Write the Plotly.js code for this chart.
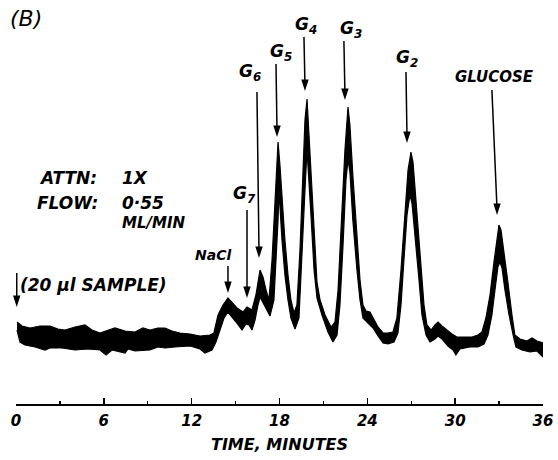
<!DOCTYPE html>
<html>
<head>
<meta charset="utf-8">
<script src="https://cdn.plot.ly/plotly-3.0.1.min.js"></script>
<style>html,body{margin:0;padding:0;background:#fff;}#chart{width:558px;height:460px;}</style>
</head>
<body>
<div id="chart"></div>
<script>
// Time in minutes, detector response (arbitrary units, baseline ~ 0)
// Upper edge of the recorder pen trace
const upperTime = [0.07,0.41,0.96,1.64,2.32,2.87,3.35,4.03,4.71,5.19,5.74,6.28,6.76,7.45,8.13,8.67,9.15,9.70,10.18,10.66,11.20,11.89,12.57,13.25,13.52,13.80,14.14,14.48,14.82,15.10,15.51,15.78,16.12,16.39,16.67,16.87,17.08,17.28,17.49,17.69,17.83,17.90,18.03,18.17,18.37,18.58,18.78,18.99,19.19,19.40,19.60,19.74,19.88,20.01,20.15,20.36,20.56,20.77,21.11,21.52,21.79,22.00,22.27,22.47,22.68,22.81,23.01,23.22,23.50,23.70,23.91,24.18,24.45,24.73,25.07,25.41,25.75,26.02,26.30,26.57,26.78,26.98,27.12,27.32,27.60,27.87,28.07,28.35,28.62,28.83,29.10,29.44,29.78,30.12,30.67,31.15,31.56,31.83,32.10,32.38,32.65,32.86,32.99,33.13,33.33,33.61,33.88,34.08,34.43,34.90,35.25,35.59,36.00];
const upperSignal = [18,14,12,14,14,11,10,13,15,10,7,10,12,9,8,12,10,12,12,9,7,6,4,5,7,25,35,42,37,32,28,33,30,45,70,63,50,40,80,140,180,198,175,140,100,65,40,27,35,90,170,220,241,205,160,100,58,40,25,13,18,50,130,190,233,215,165,115,60,35,29,28,20,13,7,7,8,22,70,130,170,188,178,140,85,35,15,10,15,18,14,10,6,3,3,3,5,8,22,45,78,104,115,110,90,57,25,5,1,-1,2,-1,-3];
// Lower edge of the recorder pen trace
const lowerTime = [0.07,0.27,0.61,1.30,1.98,2.32,3.14,4.03,4.92,5.74,6.15,6.56,7.45,7.65,8.13,9.15,9.70,10.18,10.86,11.89,12.57,12.91,13.39,13.66,13.93,14.21,14.48,14.69,15.03,15.44,15.71,15.92,16.12,16.33,16.53,16.67,16.87,17.14,17.35,17.62,17.76,17.90,17.96,18.03,18.17,18.37,18.58,18.78,19.06,19.33,19.54,19.74,19.88,20.01,20.15,20.36,20.56,20.90,21.31,21.65,21.93,22.13,22.34,22.54,22.68,22.81,23.01,23.29,23.50,23.70,24.04,24.39,24.73,25.07,25.41,25.82,26.09,26.30,26.50,26.71,26.91,27.05,27.25,27.53,27.73,28.01,28.28,28.62,28.83,29.10,29.51,29.85,30.05,30.33,31.01,31.56,31.97,32.24,32.51,32.72,32.92,33.06,33.20,33.40,33.68,33.96,34.15,34.56,35.11,35.59,36.00];
const lowerSignal = [10,-2,-5,-7,-10,-8,-8,-10,-9,-10,-15,-10,-13,-9,-11,-10,-7,-8,-7,-6,-9,-13,-10,-2,10,22,28,24,18,10,16,15,10,20,35,43,38,30,24,40,80,120,150,135,100,65,40,22,11,22,80,150,190,165,125,70,42,25,8,-2,5,35,95,160,180,168,120,70,40,22,17,12,4,-3,-4,-2,7,35,80,125,145,137,105,60,25,5,-2,1,4,1,-6,-10,-15,-9,-7,-7,-4,5,25,50,73,78,72,50,25,5,-7,-10,-12,-11,-17];

const tickValues = [0, 6, 12, 18, 24, 30, 36];
const tickLabels = ['0', '6', '12', '18', '24', '30', '36'];

// Peak labels and their label positions (min, response)
const peakLabels = ['NaCl', 'G<sub>7</sub>', 'G<sub>6</sub>', 'G<sub>5</sub>', 'G<sub>4</sub>', 'G<sub>3</sub>', 'G<sub>2</sub>', 'GLUCOSE'];
const labelTime   = [13.46, 15.64, 15.98, 18.10, 19.81, 22.88, 26.71, 32.72];
const labelSignal = [85, 146, 268, 288, 315, 311, 282, 263];
// Marker arrows: sample injection, NaCl, G7, G6, G5, G4, G3, G2, glucose
const tailTime    = [0.05, 14.48, 15.78, 16.46, 17.76, 19.67, 22.40, 26.64, 32.51];
const tailSignal  = [67, 74, 130, 248, 276, 303, 299, 268, 250];
const headTime    = [0.05, 14.48, 15.78, 16.60, 17.83, 19.74, 22.47, 26.71, 32.86];
const headSignal  = [33, 47, 42, 82, 203, 249, 240, 197, 125];

const polyX = upperTime.concat(lowerTime.slice().reverse());
const polyY = upperSignal.concat(lowerSignal.slice().reverse());

const FAM = 'DejaVu Sans';
const boldItalic = (size) => ({family: FAM, size: size, color: '#000', weight: 'bold', style: 'italic'});

const trace = {
  x: polyX, y: polyY, type: 'scatter', mode: 'lines',
  fill: 'toself', fillcolor: '#000',
  line: {color: '#000', width: 1.2, shape: 'linear'},
  hoverinfo: 'skip'
};

const arrowX = [], arrowY = [];
for (let i = 0; i < tailTime.length; i++) {
  arrowX.push(tailTime[i], headTime[i], null);
  arrowY.push(tailSignal[i], headSignal[i] + 6, null);
}
const arrowShafts = {
  x: arrowX, y: arrowY, type: 'scatter', mode: 'lines',
  line: {color: '#000', width: 1.5}, hoverinfo: 'skip'
};
const arrowHeads = {
  x: headTime, y: headSignal, type: 'scatter', mode: 'markers',
  marker: {symbol: 'arrow', angle: 180, size: 12, color: '#000', line: {width: 0}},
  cliponaxis: false, hoverinfo: 'skip'
};

const annotations = [];
for (let i = 0; i < peakLabels.length; i++) {
  annotations.push({
    x: labelTime[i], y: labelSignal[i], xref: 'x', yref: 'y',
    text: peakLabels[i], showarrow: false, xanchor: 'center', yanchor: 'middle',
    font: boldItalic(i === 0 ? 14 : (i === 7 ? 15 : 17))
  });
}
annotations.push({x: 0.15, y: 55, xref: 'x', yref: 'y', text: '(20 µl SAMPLE)', showarrow: false,
  xanchor: 'left', yanchor: 'middle', font: boldItalic(17)});
annotations.push({x: 1.43, y: 162, xref: 'x', yref: 'y', text: 'ATTN:', showarrow: false,
  xanchor: 'left', yanchor: 'middle', font: boldItalic(17)});
annotations.push({x: 7.10, y: 162, xref: 'x', yref: 'y', text: '1X', showarrow: false,
  xanchor: 'left', yanchor: 'middle', font: boldItalic(17)});
annotations.push({x: 1.30, y: 137, xref: 'x', yref: 'y', text: 'FLOW:', showarrow: false,
  xanchor: 'left', yanchor: 'middle', font: boldItalic(17)});
annotations.push({x: 7.10, y: 137, xref: 'x', yref: 'y', text: '0·55', showarrow: false,
  xanchor: 'left', yanchor: 'middle', font: boldItalic(17)});
annotations.push({x: 7.10, y: 117, xref: 'x', yref: 'y', text: 'ML/MIN', showarrow: false,
  xanchor: 'left', yanchor: 'middle', font: boldItalic(15)});
annotations.push({x: -0.015, y: 0.955, xref: 'paper', yref: 'paper', text: '(B)', showarrow: false,
  xanchor: 'left', yanchor: 'middle', font: {family: FAM, size: 22, color: '#000', style: 'italic'}});

const layout = {
  width: 558, height: 460,
  margin: {l: 16, r: 15, t: 0, b: 56, pad: 0},
  paper_bgcolor: '#fff', plot_bgcolor: '#fff',
  showlegend: false,
  xaxis: {
    range: [0, 36], showline: true, linecolor: '#000', linewidth: 2,
    ticks: 'inside', ticklen: 6, tickwidth: 1.5, tickcolor: '#000',
    tickvals: tickValues, ticktext: tickLabels,
    tickfont: boldItalic(15), ticklabelstandoff: 2,
    minor: {dtick: 3, tick0: 0, ticks: 'inside', ticklen: 3, tickwidth: 1.2, tickcolor: '#000', showgrid: false},
    showgrid: false, zeroline: false, fixedrange: true,
    title: {text: 'TIME, MINUTES', font: boldItalic(16), standoff: 10}
  },
  yaxis: {range: [-64, 340], visible: false, fixedrange: true},
  annotations: annotations
};

Plotly.newPlot('chart', [trace, arrowShafts, arrowHeads], layout, {staticPlot: true, displayModeBar: false});
</script>
</body>
</html>
